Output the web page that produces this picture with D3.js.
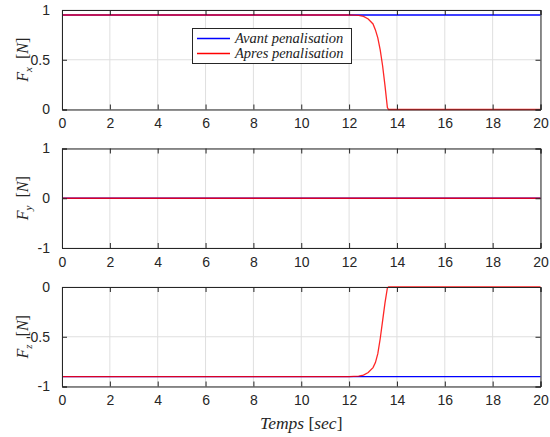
<!DOCTYPE html>
<html><head><meta charset="utf-8">
<script src="https://cdn.jsdelivr.net/npm/d3@7"></script>
<style>body{margin:0;background:#fff}</style>
</head><body>
<svg id="c" width="550" height="437"></svg>
<script>
const xTicks = [0,2,4,6,8,10,12,14,16,18,20];
// Time samples (s)
const timeAvant = [0, 20];
const fxAvant = [0.95, 0.95];
const fyAvant = [0, 0];
const fzAvant = [-0.9, -0.9];
const timeApres = [0, 12, 12.4, 12.6, 12.8, 13.0, 13.1, 13.2, 13.3, 13.4, 13.5, 13.6, 13.65, 20];
const fxApres = [0.95, 0.95, 0.945, 0.935, 0.91, 0.86, 0.8, 0.72, 0.6, 0.44, 0.24, 0.02, 0, 0];
const fyApres = [0, 0, 0, 0, 0, 0, 0, 0, 0, 0, 0, 0, 0, 0];
const fzApres = [-0.9, -0.9, -0.895, -0.885, -0.86, -0.81, -0.76, -0.67, -0.52, -0.34, -0.16, -0.01, 0, 0];
const legendLabels = ["Avant penalisation", "Apres penalisation"];
const seriesColors = ["#0000ff", "#ff0000"];

const panels = [
  {top:10, bottom:109.5, domain:[0,1], ticks:[0,0.5,1], labels:["0","0.5","1"], sub:"x", avant:fxAvant, apres:fxApres},
  {top:148.5, bottom:248, domain:[-1,1], ticks:[-1,0,1], labels:["-1","0","1"], sub:"y", avant:fyAvant, apres:fyApres},
  {top:287, bottom:386.5, domain:[-1,0], ticks:[-1,-0.5,0], labels:["-1","-0.5","0"], sub:"z", avant:fzAvant, apres:fzApres}
];

const svg = d3.select("#c");
const L = 62, R = 540.5;
const x = d3.scaleLinear().domain([0,20]).range([L,R]);
const axisCol = "#262626";
const tickFont = "Liberation Sans, Arial, sans-serif";
const serif = "Liberation Serif, Times New Roman, serif";

panels.forEach((p,i) => {
  const y = d3.scaleLinear().domain(p.domain).range([p.bottom,p.top]);
  const g = svg.append("g");
  g.selectAll(".gx").data(xTicks).join("line")
    .attr("x1",d=>x(d)).attr("x2",d=>x(d)).attr("y1",p.top).attr("y2",p.bottom)
    .attr("stroke","#dfdfdf").attr("stroke-width",1);
  g.selectAll(".gy").data(p.ticks).join("line")
    .attr("x1",L).attr("x2",R).attr("y1",d=>y(d)).attr("y2",d=>y(d))
    .attr("stroke","#dfdfdf").attr("stroke-width",1);
  const lineA = d3.line().x((d,k)=>x(timeAvant[k])).y(d=>y(d));
  const lineB = d3.line().x((d,k)=>x(timeApres[k])).y(d=>y(d));
  g.append("path").attr("d",lineA(p.avant)).attr("fill","none").attr("stroke",seriesColors[0]).attr("stroke-width",1.3);
  g.append("path").attr("d",lineB(p.apres)).attr("fill","none").attr("stroke",seriesColors[1]).attr("stroke-width",1.3).attr("stroke-opacity",0.85);
  const xb = d3.axisBottom(x).tickValues(xTicks).tickSize(-5).tickPadding(9).tickFormat(d3.format("d"));
  const xt = d3.axisTop(x).tickValues(xTicks).tickSize(-5).tickFormat("");
  const yl = d3.axisLeft(y).tickValues(p.ticks).tickSize(-5).tickPadding(12).tickFormat((d,k)=>p.labels[k]);
  const yr = d3.axisRight(y).tickValues(p.ticks).tickSize(-5).tickFormat("");
  [[xb,`translate(0,${p.bottom})`],[xt,`translate(0,${p.top})`],[yl,`translate(${L},0)`],[yr,`translate(${R},0)`]].forEach(([ax,tr])=>{
    const a = g.append("g").attr("transform",tr).call(ax);
    a.select(".domain").attr("stroke",axisCol).attr("stroke-width",1);
    a.selectAll(".tick line").attr("stroke",axisCol);
    a.selectAll("text").attr("fill",axisCol).attr("font-family",tickFont).attr("font-size",14);
  });
  const cy = (p.top+p.bottom)/2;
  const t = svg.append("text").attr("transform",`translate(28,${cy}) rotate(-90)`)
    .attr("text-anchor","middle").attr("font-family",serif).attr("font-size",16).attr("fill",axisCol);
  t.append("tspan").attr("font-style","italic").text("F");
  t.append("tspan").attr("font-style","italic").attr("font-size",11).attr("dy",4).text(p.sub);
  t.append("tspan").attr("dy",-4).text("\u00a0\u00a0[");
  t.append("tspan").attr("font-style","italic").text("N");
  t.append("tspan").text("]");
});

const xl = svg.append("text").attr("x",(L+R)/2).attr("y",429).attr("text-anchor","middle")
  .attr("font-family",serif).attr("font-size",17.5).attr("fill",axisCol);
xl.append("tspan").attr("font-style","italic").text("Temps");
xl.append("tspan").text("\u00a0[");
xl.append("tspan").attr("font-style","italic").text("sec");
xl.append("tspan").text("]");

const lg = svg.append("g");
lg.append("rect").attr("x",192.5).attr("y",28.5).attr("width",159).attr("height",35)
  .attr("fill","#fff").attr("stroke","#262626").attr("stroke-width",1);
legendLabels.forEach((lab,k)=>{
  const yy = 38.5 + k*15;
  lg.append("line").attr("x1",197).attr("x2",230).attr("y1",yy).attr("y2",yy)
    .attr("stroke",seriesColors[k]).attr("stroke-width",1.3);
  lg.append("text").attr("x",235).attr("y",yy+4.5).attr("font-family",serif).attr("font-style","italic")
    .attr("font-size",14.5).attr("fill","#222").text(lab);
});
</script>
</body></html>
